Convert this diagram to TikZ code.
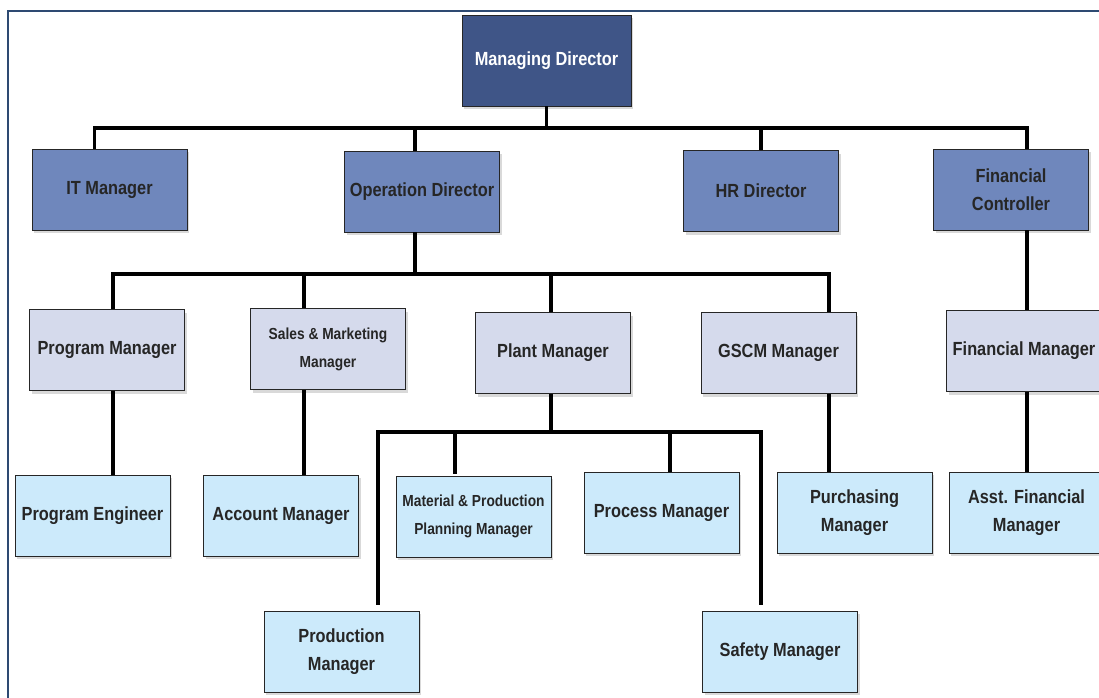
\documentclass[tikz,border=0pt]{standalone}
\usepackage{fontspec}
\setmainfont{Liberation Sans}[FakeStretch=0.86]
\usepackage{tikz}
\usetikzlibrary{shadows}
\definecolor{topblue}{HTML}{3F5587}
\definecolor{midblue}{HTML}{6F87BC}
\definecolor{lavender}{HTML}{D5DAEC}
\definecolor{skyblue}{HTML}{CCEAFB}
\definecolor{framecol}{HTML}{2E4A72}
\definecolor{txtgray}{HTML}{262626}

\begin{document}
\begin{tikzpicture}[x=1pt,y=-1pt,
    box/.style={draw=black!85,line width=0.8pt,minimum width=155pt,minimum height=81pt,
      inner sep=2pt,align=center,text=txtgray,font=\bfseries\fontsize{19}{28}\selectfont,
      drop shadow={opacity=0.3,shadow xshift=2pt,shadow yshift=-3pt}},
    small/.style={font=\bfseries\fontsize{16}{28}\selectfont},
    link/.style={line width=3.2pt,black}]
			\useasboundingbox (0,0) rectangle (1099,697);
			\clip (0,0) rectangle (1099,697);
			\draw[framecol,line width=2pt] (8,11) rectangle (1130,730);
			% boxes
			\node[box,fill=topblue,text=white,minimum width=169pt,minimum height=91pt] (md) at (546.5,60.5) {Managing Director};
			\node[box,fill=midblue] (it) at (109.5,189.5) {IT Manager};
			\node[box,fill=midblue] (op) at (422,191.5) {Operation Director};
			\node[box,fill=midblue] (hr) at (761,191) {HR Director};
			\node[box,fill=midblue] (fc) at (1011,189.5) {Financial\\Controller};
			\node[box,fill=lavender] (pm) at (107,350) {Program Manager};
			\node[box,fill=lavender,small] (sm) at (328,349) {Sales \& Marketing\\Manager};
			\node[box,fill=lavender] (plm) at (553,353) {Plant Manager};
			\node[box,fill=lavender] (gscm) at (778.5,353) {GSCM Manager};
			\node[box,fill=lavender] (fm) at (1024,351) {Financial Manager};
			\node[box,fill=skyblue] (pe) at (92.5,515.5) {Program Engineer};
			\node[box,fill=skyblue] (am) at (281,515.5) {Account Manager};
			\node[box,fill=skyblue,small] (mpp) at (473.5,516.5) {Material \& Production\\Planning Manager};
			\node[box,fill=skyblue] (prm) at (661.5,512.5) {Process Manager};
			\node[box,fill=skyblue] (pur) at (854.5,512.5) {Purchasing\\Manager};
			\node[box,fill=skyblue] (afm) at (1026.5,512.5) {Asst. Financial\\Manager};
			\node[box,fill=skyblue] (prod) at (341.5,651.5) {Production\\Manager};
			\node[box,fill=skyblue] (saf) at (780,651.5) {Safety Manager};
			% top level
			\coordinate (bus1) at (546.5,128);
			\draw[link] (md.south) -- (bus1);
			\draw[link] ([xshift=-15pt]it.north) |- (bus1);
			\draw[link] ([xshift=-7pt]op.north) |- (bus1);
			\draw[link] (hr.north) |- (bus1);
			\draw[link] ([xshift=16pt]fc.north) |- (bus1);
			% operation director
			\coordinate (bus2) at (415,274);
			\draw[link] ([xshift=-7pt]op.south) -- (bus2);
			\draw[link] ([xshift=6pt]pm.north) |- (bus2);
			\draw[link] ([xshift=-24pt]sm.north) |- (bus2);
			\draw[link] ([xshift=-2pt]plm.north) |- (bus2);
			\draw[link] ([xshift=50.5pt]gscm.north) |- (bus2);
			\draw[link] ([xshift=6pt]pm.south) -- ([xshift=6pt]pm.south |- pe.north);
			\draw[link] ([xshift=-24pt]sm.south) -- ([xshift=-24pt]sm.south |- am.north);
			% plant manager
			\coordinate (bus3) at (551,432);
			\draw[link] ([xshift=-2pt]plm.south) -- (bus3);
			\draw[link] ([xshift=36.5pt,yshift=6pt]prod.north) |- (bus3);
			\draw[link] ([xshift=-18.5pt,yshift=2pt]mpp.north) |- (bus3);
			\draw[link] ([xshift=8.5pt]prm.north) |- (bus3);
			\draw[link] ([xshift=-19pt,yshift=6pt]saf.north) |- (bus3);
			% gscm and finance
			\draw[link] ([xshift=50.5pt]gscm.south) -- ([xshift=50.5pt]gscm.south |- pur.north);
			\draw[link] ([xshift=16pt]fc.south) -- ([xshift=16pt]fc.south |- fm.north);
			\draw[link] ([xshift=3pt]fm.south) -- ([xshift=3pt]fm.south |- afm.north);
\end{tikzpicture}
\end{document}
